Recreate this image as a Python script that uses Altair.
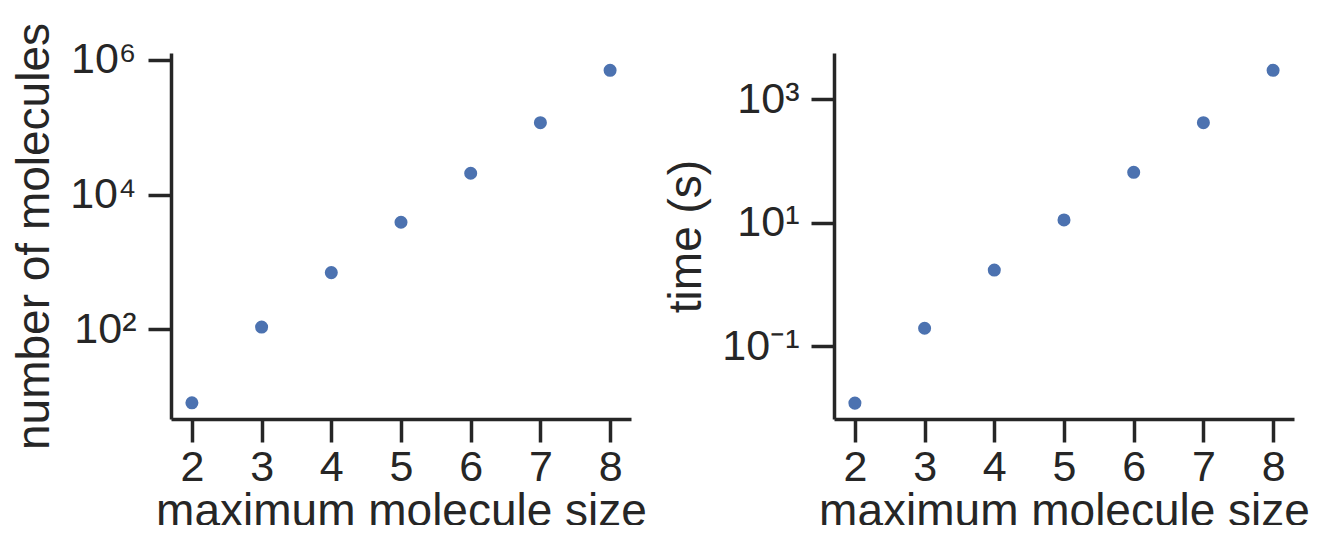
import altair as alt
import pandas as pd

sizes = [2, 3, 4, 5, 6, 7, 8]
n_molecules = [8, 107, 690, 3870, 20700, 117000, 703000]
times_s = [0.0119, 0.194, 1.70, 11.0, 65, 413, 2920]

left_ticks = [100, 10000, 1000000]
right_ticks = [0.1, 10, 1000]
x_ticks = [2, 3, 4, 5, 6, 7, 8]

df = pd.DataFrame({"size": sizes, "n": n_molecules, "t": times_s})

FONT = "Liberation Sans"
TXT = "#262626"
BLUE = "#4C72B0"

xenc = alt.X(
    "size:Q",
    title="maximum molecule size",
    scale=alt.Scale(domain=[1.7, 8.3], nice=False, zero=False),
    axis=alt.Axis(values=x_ticks, format="d"),
)

left = (
    alt.Chart(df)
    .mark_circle(size=170, color=BLUE, opacity=1)
    .encode(
        x=xenc,
        y=alt.Y(
            "n:Q",
            title="number of molecules",
            scale=alt.Scale(type="log", domain=[4.6, 1.27e6], nice=False),
            axis=alt.Axis(
                values=left_ticks,
                labelExpr="'10' + (datum.value < 1000 ? '²' : datum.value < 100000 ? '⁴' : '⁶')",
            ),
        ),
    )
    .properties(width=460, height=366)
)

right = (
    alt.Chart(df)
    .mark_circle(size=170, color=BLUE, opacity=1)
    .encode(
        x=xenc,
        y=alt.Y(
            "t:Q",
            title="time (s)",
            scale=alt.Scale(type="log", domain=[0.00658, 5560], nice=False),
            axis=alt.Axis(
                values=right_ticks,
                labelExpr="'10' + (datum.value < 1 ? '⁻¹' : datum.value < 100 ? '¹' : '³')",
            ),
        ),
    )
    .properties(width=460, height=366)
)

chart = (
    alt.hconcat(left, right, spacing=16)
    .properties(padding={"left": 3, "top": 14, "right": 0, "bottom": -9})
    .configure_view(stroke=None)
    .configure_axis(
        grid=False,
        domainColor=TXT,
        domainWidth=3.5,
        tickColor=TXT,
        tickWidth=3.5,
        tickSize=23,
        labelFont=FONT,
        labelFontSize=43,
        labelColor=TXT,
        titleFont=FONT,
        titleFontSize=46,
        titleFontWeight="normal",
        titleColor=TXT,
    )
    .configure_axisX(labelPadding=4, titlePadding=0)
    .configure_axisY(labelPadding=12, titlePadding=11)
)

chart.save("out.html", embed_options={"renderer": "svg", "actions": False})
